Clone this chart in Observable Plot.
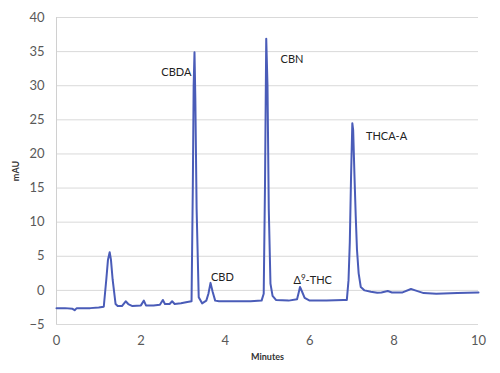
<!DOCTYPE html>
<html>
<head>
<meta charset="utf-8">
<script src="https://cdn.jsdelivr.net/npm/d3@7"></script>
<script src="https://cdn.jsdelivr.net/npm/@observablehq/plot@0.6"></script>
<style>
  html, body { margin: 0; padding: 0; background: #fff; }
  #chart { width: 500px; height: 373px; }
</style>
</head>
<body>
<div id="chart"></div>
<script>
// Chromatogram trace
const minutes = [0, 0.2, 0.38, 0.43, 0.48, 0.8, 1.0, 1.12, 1.18, 1.22, 1.26, 1.29, 1.33, 1.4, 1.45, 1.55, 1.64, 1.7, 1.8, 2.0, 2.07, 2.12, 2.3, 2.45, 2.52, 2.57, 2.68, 2.74, 2.8, 2.95, 3.1, 3.2, 3.23, 3.25, 3.27, 3.29, 3.32, 3.37, 3.45, 3.55, 3.6, 3.65, 3.7, 3.76, 3.85, 4.2, 4.6, 4.86, 4.91, 4.94, 4.97, 5.0, 5.03, 5.07, 5.12, 5.2, 5.5, 5.7, 5.74, 5.77, 5.82, 5.88, 6.0, 6.4, 6.8, 6.88, 6.92, 6.95, 6.98, 7.01, 7.03, 7.06, 7.09, 7.12, 7.16, 7.21, 7.3, 7.45, 7.6, 7.7, 7.85, 7.95, 8.2, 8.4, 8.5, 8.7, 9.0, 9.5, 10];
const mAU    = [-2.6, -2.6, -2.7, -2.9, -2.6, -2.6, -2.5, -2.4, 1.6, 4.5, 5.6, 4.5, 1.6, -2.0, -2.3, -2.3, -1.6, -2.0, -2.3, -2.2, -1.5, -2.2, -2.2, -2.1, -1.4, -2.0, -2.0, -1.6, -2.0, -1.9, -1.7, -1.6, 15, 30, 34.9, 28, 12, -1.0, -1.9, -1.5, -0.5, 1.1, -0.2, -1.5, -1.6, -1.6, -1.6, -1.5, -0.5, 15, 36.9, 30, 12, 1, -0.8, -1.4, -1.5, -1.3, -0.3, 0.5, -0.2, -1.1, -1.5, -1.5, -1.4, -1.4, 1.5, 7, 16.7, 24.5, 23.5, 17, 11, 6, 2.5, 0.5, 0.0, -0.2, -0.35, -0.3, -0.1, -0.3, -0.3, 0.2, 0.0, -0.4, -0.5, -0.4, -0.3];

// Peak labels
const peakNames  = ["CBDA", "CBD", "CBN", "Δ⁹-THC", "THCA-A"];
const peakTimes  = [2.84, 3.93, 5.58, 6.07, 7.82];
const peakLevels = [31.9, 1.94, 33.8, 1.46, 22.6];

// Ticks
const xTicks = [0, 2, 4, 6, 8, 10];
const yTicks = [-5, 0, 5, 10, 15, 20, 25, 30, 35, 40];

const trace = minutes.map((t, i) => ({t, v: mAU[i]}));
const labels = peakNames.map((name, i) => ({name, t: peakTimes[i], v: peakLevels[i]}));

const plot = Plot.plot({
  width: 500,
  height: 373,
  marginLeft: 56,
  marginRight: 22,
  marginTop: 17,
  marginBottom: 49,
  style: {fontFamily: "Lato, 'Open Sans', sans-serif", background: "#fff", overflow: "visible"},
  x: {domain: [0, 10], ticks: xTicks, tickSize: 0, tickPadding: 11, label: "Minutes", labelAnchor: "center", labelOffset: 35, labelArrow: "none"},
  y: {domain: [-5, 40], ticks: yTicks, tickSize: 0, tickPadding: 12, label: "mAU", labelAnchor: "center", labelOffset: 44, labelArrow: "none"},
  marks: [
    Plot.ruleY(yTicks, {stroke: "#d9d9d9", strokeWidth: 1}),
    Plot.ruleX([0], {y1: -5, y2: 40, stroke: "#d0d0d0", strokeWidth: 1}),
    Plot.line(trace, {x: "t", y: "v", stroke: "#4a5cb8", strokeWidth: 2, curve: "linear"}),
    Plot.text(labels, {x: "t", y: "v", text: "name", fontSize: 11, fill: "#222", textAnchor: "middle"})
  ]
});

// style axes
plot.querySelectorAll('[aria-label="x-axis tick label"], [aria-label="y-axis tick label"]').forEach(g => {
  g.setAttribute("font-size", "13");
  g.setAttribute("fill", "#595959");
});
plot.querySelectorAll('[aria-label="x-axis label"], [aria-label="y-axis label"]').forEach(g => {
  g.setAttribute("font-size", "9");
  g.setAttribute("font-weight", "bold");
  g.setAttribute("fill", "#333");
});
// proper superscript for Δ9-THC
plot.querySelectorAll("text").forEach(t => {
  if (t.textContent === "Δ⁹-THC") {
    const ns = "http://www.w3.org/2000/svg";
    while (t.firstChild) t.removeChild(t.firstChild);
    t.appendChild(document.createTextNode("Δ"));
    const sup = document.createElementNS(ns, "tspan");
    sup.setAttribute("font-size", "8");
    sup.setAttribute("dy", "-4");
    sup.textContent = "9";
    t.appendChild(sup);
    const rest = document.createElementNS(ns, "tspan");
    rest.setAttribute("dy", "4");
    rest.textContent = "-THC";
    t.appendChild(rest);
  }
});
document.getElementById("chart").appendChild(plot);
</script>
</body>
</html>
